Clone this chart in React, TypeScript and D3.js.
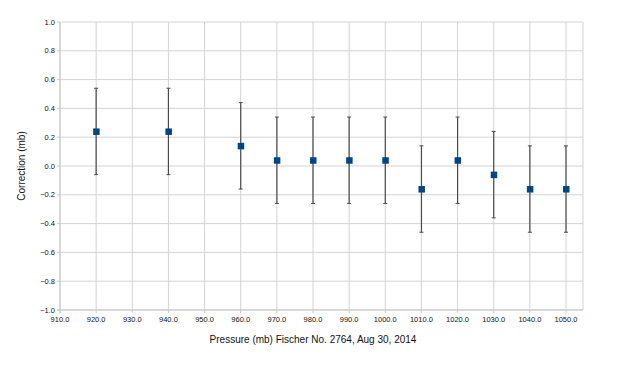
import React from "react";
import * as d3 from "d3";

const pressures = [920, 940, 960, 970, 980, 990, 1000, 1010, 1020, 1030, 1040, 1050];
const corrections = [0.24, 0.24, 0.14, 0.04, 0.04, 0.04, 0.04, -0.16, 0.04, -0.06, -0.16, -0.16];
const errors = [0.3, 0.3, 0.3, 0.3, 0.3, 0.3, 0.3, 0.3, 0.3, 0.3, 0.3, 0.3];
const xTicks = [910, 920, 930, 940, 950, 960, 970, 980, 990, 1000, 1010, 1020, 1030, 1040, 1050];
const yTicks = [-1, -0.8, -0.6, -0.4, -0.2, 0, 0.2, 0.4, 0.6, 0.8, 1.0];
const xTitle = "Pressure (mb) Fischer No. 2764, Aug 30, 2014";
const yTitle = "Correction (mb)";

const W = 620, H = 375;
const L = 60, R = 583, T = 22, B = 310;

export default function App() {
  const x = d3.scaleLinear().domain([910, 1054.7]).range([L, R]);
  const y = d3.scaleLinear().domain([-1, 1]).range([B, T]);
  const font = "Helvetica, Arial, 'Liberation Sans', sans-serif";
  return (
    <svg width={W} height={H} style={{ position: "absolute", left: 0, top: 0, background: "#fff" }}
      fontFamily={font}>
      <rect x={0} y={0} width={W} height={H} fill="#fff" />
      {yTicks.map((t) => (
        <line key={"gy" + t} x1={L} x2={R} y1={y(t)} y2={y(t)} stroke="#d3d3d3" strokeWidth={1} />
      ))}
      {xTicks.map((t) => (
        <line key={"gx" + t} x1={x(t)} x2={x(t)} y1={T} y2={B} stroke="#d3d3d3" strokeWidth={1} />
      ))}
      <line x1={R} x2={R} y1={T} y2={B} stroke="#d3d3d3" strokeWidth={1} />
      <line x1={L} x2={L} y1={T} y2={B + 3} stroke="#c8c8c8" strokeWidth={1} />
      <line x1={L - 3} x2={R} y1={B} y2={B} stroke="#c8c8c8" strokeWidth={1} />
      {yTicks.map((t) => (
        <line key={"ty" + t} x1={L - 3} x2={L} y1={y(t)} y2={y(t)} stroke="#c8c8c8" />
      ))}
      {xTicks.map((t) => (
        <line key={"tx" + t} x1={x(t)} x2={x(t)} y1={B} y2={B + 3} stroke="#c8c8c8" />
      ))}
      {yTicks.map((t) => (
        <text key={"ly" + t} x={L - 5} y={y(t)} dy="0.35em" textAnchor="end" fontSize={7.5} fill="#111">
          {d3.format(".1f")(t)}
        </text>
      ))}
      {xTicks.map((t) => (
        <text key={"lx" + t} x={x(t)} y={B + 12} textAnchor="middle" fontSize={7.5} fill="#111">
          {d3.format(".1f")(t)}
        </text>
      ))}
      {pressures.map((p, i) => {
        const cx = x(p);
        const hi = y(corrections[i] + errors[i]);
        const lo = y(corrections[i] - errors[i]);
        return (
          <g key={"e" + p}>
            <line x1={cx} x2={cx} y1={hi} y2={lo} stroke="#4a4a4a" strokeWidth={1.2} />
            <line x1={cx - 2} x2={cx + 2} y1={hi} y2={hi} stroke="#4a4a4a" strokeWidth={1} />
            <line x1={cx - 2} x2={cx + 2} y1={lo} y2={lo} stroke="#4a4a4a" strokeWidth={1} />
          </g>
        );
      })}
      {pressures.map((p, i) => (
        <rect key={"m" + p} x={x(p) - 3} y={y(corrections[i]) - 3} width={6.5} height={6.5} fill="#004586" />
      ))}
      <text x={(L + 566) / 2} y={343} textAnchor="middle" fontSize={10} fill="#111">{xTitle}</text>
      <text transform={`translate(25,${(T + B) / 2}) rotate(-90)`} textAnchor="middle" fontSize={10} fill="#111">
        {yTitle}
      </text>
    </svg>
  );
}
